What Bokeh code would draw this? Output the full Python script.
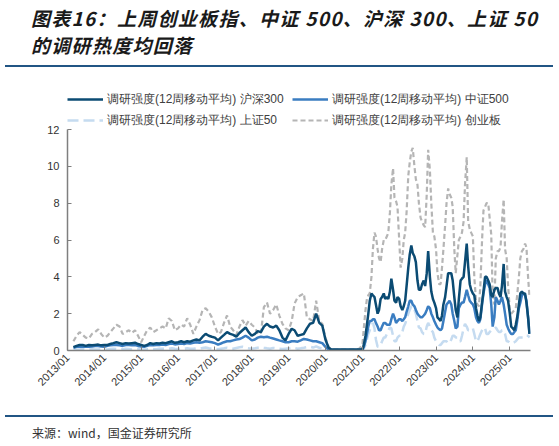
import pandas as pd
from math import pi
from bokeh.plotting import figure
from bokeh.layouts import column
from bokeh.models import (Legend, LegendItem, Div, FixedTicker,
                          DatetimeTickFormatter, Range1d)
from bokeh.embed import file_html
from bokeh.resources import INLINE

# monthly points up to 2020/12, semi-monthly afterwards
dates = (list(pd.date_range("2013-03-01", "2020-12-01", freq="MS"))
         + list(pd.date_range("2021-01-01", "2025-07-16", freq="SMS")))

# 调研强度(12周移动平均) 沪深300
hs300 = [0.18, 0.25, 0.3, 0.3, 0.25, 0.3, 0.28, 0.3, 0.32, 0.28,
         0.3, 0.3, 0.35, 0.4, 0.45, 0.4, 0.35, 0.4, 0.38, 0.4, 0.42, 0.35,
         0.3, 0.25, 0.3, 0.4, 0.35, 0.4, 0.38, 0.42, 0.4, 0.45, 0.5, 0.42,
         0.45, 0.5, 0.45, 0.5, 0.48, 0.55, 0.6, 0.55, 0.75, 0.9, 0.8, 0.75,
         0.7, 0.55, 0.7, 0.85, 1.0, 0.9, 0.85, 0.75, 0.95, 1.1, 1.25, 1.0,
         0.8, 0.9, 1.05, 1.0, 1.3, 1.45, 1.3, 1.25, 1.35, 1.1, 0.7, 0.55,
         0.9, 1.18, 1.1, 0.8, 0.85, 0.9, 1.2, 1.45, 1.5, 2.0, 1.5, 1.35,
         0.6, 0.15, 0.05, 0.05, 0.05, 0.05, 0.05, 0.05, 0.05, 0.05, 0.05, 0.05,
         0.05, 0.3, 0.8, 1.4, 2.0, 2.7, 3.1, 3.0, 2.9, 2.5, 2.0, 2.2,
         2.8, 2.9, 3.1, 2.8, 2.9, 2.8, 3.2, 3.9, 3.3, 2.7, 2.6, 2.9,
         2.8, 2.4, 2.2, 2.4, 2.7, 3.5, 4.5, 5.2, 5.7, 5.3, 5.1, 4.8,
         3.8, 3.3, 3.3, 3.6, 3.8, 3.5, 4.2, 5.4, 4.0, 3.2, 2.8, 2.6,
         2.3, 1.8, 1.7, 1.6, 1.9, 2.5, 2.9, 3.5, 4.2, 4.2, 4.2, 3.8,
         2.9, 2.2, 1.8, 2.8, 3.8, 3.9, 4.0, 4.8, 5.8, 4.6, 3.6, 3.3,
         3.1, 3.0, 2.3, 1.9, 1.6, 1.8, 2.6, 3.2, 4.0, 4.0, 3.8, 3.6,
         3.0, 2.9, 3.3, 3.4, 3.4, 3.1, 2.9, 3.5, 4.7, 3.2, 2.9, 2.7,
         2.0, 1.3, 1.2, 1.1, 1.4, 1.8, 2.5, 3.1, 3.2, 3.1, 3.1, 2.6, 1.8, 0.9]

# 调研强度(12周移动平均) 中证500
zz500 = [0.15, 0.2, 0.22, 0.2, 0.22, 0.2, 0.22, 0.25, 0.25, 0.22,
         0.2, 0.25, 0.28, 0.3, 0.3, 0.28, 0.25, 0.3, 0.3, 0.28, 0.3, 0.25,
         0.22, 0.2, 0.25, 0.3, 0.28, 0.3, 0.3, 0.32, 0.3, 0.35, 0.38, 0.33,
         0.35, 0.38, 0.35, 0.4, 0.38, 0.42, 0.45, 0.42, 0.45, 0.5, 0.48, 0.45,
         0.4, 0.32, 0.38, 0.45, 0.5, 0.5, 0.55, 0.6, 0.62, 0.7, 0.8, 0.7,
         0.55, 0.6, 0.7, 0.75, 0.72, 0.75, 0.7, 0.65, 0.6, 0.55, 0.5, 0.45,
         0.45, 0.5, 0.5, 0.48, 0.55, 0.63, 0.6, 0.55, 0.5, 0.5, 0.45, 0.4,
         0.2, 0.05, 0.03, 0.03, 0.03, 0.03, 0.03, 0.03, 0.03, 0.03, 0.03, 0.03,
         0.05, 0.2, 0.5, 0.9, 1.3, 1.6, 1.6, 1.7, 1.7, 1.5, 1.3, 1.1,
         1.1, 1.3, 1.5, 1.5, 1.4, 1.4, 1.4, 1.7, 2.0, 1.8, 1.5, 1.6,
         1.7, 1.7, 1.6, 1.7, 1.8, 2.1, 2.4, 2.7, 2.7, 2.5, 2.4, 2.2,
         2.0, 1.9, 1.8, 1.8, 1.9, 2.0, 2.2, 2.4, 2.3, 2.0, 1.8, 1.6,
         1.4, 1.25, 1.15, 1.1, 1.2, 1.6, 2.1, 2.5, 2.6, 2.7, 2.5, 2.0,
         1.6, 1.2, 1.3, 2.3, 2.5, 2.6, 2.6, 2.9, 3.3, 3.0, 2.7, 2.6,
         2.5, 2.3, 1.8, 1.6, 1.5, 1.7, 2.5, 3.1, 3.6, 3.8, 3.6, 3.4,
         2.5, 1.3, 1.8, 2.9, 2.7, 2.5, 2.7, 2.9, 2.5, 2.0, 1.4, 1.2,
         1.0, 0.9, 0.9, 1.0, 1.1, 1.6, 2.3, 2.6, 3.0, 3.1, 3.0, 2.7, 1.8, 0.9]

# 调研强度(12周移动平均) 上证50
sz50 = [0.05, 0.06, 0.05, 0.08, 0.06, 0.05, 0.07, 0.06, 0.05, 0.06,
        0.05, 0.06, 0.08, 0.1, 0.08, 0.06, 0.07, 0.09, 0.08, 0.06, 0.07, 0.08,
        0.06, 0.05, 0.07, 0.1, 0.08, 0.07, 0.09, 0.1, 0.08, 0.1, 0.12, 0.09,
        0.08, 0.1, 0.09, 0.12, 0.1, 0.09, 0.12, 0.1, 0.14, 0.16, 0.12, 0.1,
        0.08, 0.07, 0.1, 0.12, 0.15, 0.12, 0.1, 0.14, 0.18, 0.2, 0.15, 0.12,
        0.1, 0.12, 0.15, 0.18, 0.15, 0.12, 0.1, 0.14, 0.12, 0.1, 0.08, 0.1,
        0.12, 0.15, 0.14, 0.1, 0.12, 0.15, 0.18, 0.2, 0.16, 0.22, 0.15, 0.1,
        0.05, 0.02, 0.02, 0.02, 0.02, 0.02, 0.02, 0.02, 0.02, 0.02, 0.02, 0.02,
        0.0, 0.1, 0.3, 0.6, 0.9, 1.1, 1.3, 1.5, 1.2, 0.6, 0.2, 0.2,
        0.3, 0.5, 0.7, 0.7, 0.9, 1.1, 1.25, 1.2, 0.8, 0.5, 0.5, 0.7,
        0.8, 0.8, 1.0, 1.3, 1.45, 1.7, 2.0, 2.2, 2.4, 2.4, 2.2, 2.0,
        1.6, 1.25, 1.2, 1.0, 0.9, 0.9, 1.3, 1.5, 1.3, 1.1, 1.0, 0.7,
        0.5, 0.4, 0.3, 0.3, 0.4, 0.5, 0.5, 0.5, 0.4, 0.4, 0.6, 0.8,
        0.8, 0.7, 0.7, 0.5, 0.5, 0.8, 1.2, 1.45, 1.3, 1.1, 1.1, 1.2,
        1.2, 0.9, 0.5, 0.5, 0.7, 0.9, 1.1, 1.25, 1.2, 0.9, 0.9, 1.0,
        1.1, 1.1, 1.2, 1.25, 1.1, 1.0, 1.0, 1.1, 1.1, 0.9, 0.5, 0.5,
        0.4, 0.4, 0.4, 0.45, 0.5, 0.6, 0.7, 0.7, 0.7, 0.7, 0.7, 0.8, 0.8, 0.7]

# 调研强度(12周移动平均) 创业板
cyb = [0.5, 0.8, 1.0, 0.85, 0.7, 0.65, 0.9, 1.0, 1.15, 0.9,
       0.7, 0.8, 1.0, 1.2, 1.4, 1.3, 0.9, 1.0, 1.1, 0.95, 1.1, 0.8,
       0.45, 0.8, 1.1, 1.25, 1.0, 1.1, 1.2, 1.3, 1.2, 1.75, 1.6, 1.1,
       1.2, 1.4, 1.3, 1.75, 1.4, 0.9, 1.3, 1.65, 2.2, 2.3, 2.1, 1.8,
       1.3, 0.9, 1.0, 1.5, 1.9, 1.3, 1.1, 0.85, 1.3, 1.65, 1.35, 1.6,
       1.4, 1.25, 0.95, 0.9, 2.35, 2.6, 2.0, 2.2, 2.5, 1.9, 1.45, 1.2,
       1.1, 1.6, 2.55, 2.9, 3.0, 3.1, 1.8, 1.7, 1.6, 2.7, 1.6, 1.45,
       0.7, 0.2, 0.05, 0.05, 0.05, 0.05, 0.05, 0.05, 0.05, 0.05, 0.05, 0.1,
       0.3, 1.2, 2.2, 2.8, 3.0, 3.1, 4.0, 5.5, 6.4, 6.2, 5.5, 5.0,
       4.8, 5.5, 6.0, 6.0, 6.2, 6.4, 7.5, 9.0, 9.9, 8.3, 8.1, 7.8,
       6.0, 4.5, 5.0, 6.0, 6.4, 7.5, 9.5, 10.2, 10.8, 11.0, 10.0, 9.3,
       9.0, 8.0, 7.2, 7.0, 6.8, 6.7, 8.5, 10.9, 9.8, 8.0, 6.4, 6.2,
       5.5, 4.2, 3.6, 3.6, 4.5, 5.5, 6.8, 8.0, 8.8, 8.5, 8.3, 7.8,
       5.5, 4.2, 5.2, 6.0, 6.2, 6.4, 7.0, 9.0, 10.5, 7.0, 6.6, 6.4,
       6.2, 4.0, 2.7, 2.5, 2.4, 3.5, 6.0, 7.6, 7.8, 8.0, 8.0, 7.2,
       6.3, 3.0, 2.5, 5.0, 5.4, 5.4, 5.6, 7.0, 8.2, 5.5, 5.0, 3.5,
       2.2, 2.0, 2.1, 2.2, 2.3, 3.0, 4.0, 5.0, 5.4, 5.5, 5.8, 5.6, 4.0, 2.9]

y_ticks = [0, 2, 4, 6, 8, 10, 12]
tick_years = list(range(2013, 2026))

title_1 = "图表16：上周创业板指、中证 500、沪深 300、上证 50"
title_2 = "的调研热度均回落"
source_text = "来源：wind，国金证券研究所"
label_prefix = "调研强度(12周移动平均) "

RULE = "#215584"

# 标题 + 分隔线
title_div = Div(
    text=('<div style="height:65px;padding:4px 0 0 31px;box-sizing:border-box;'
          'font-family:\'Noto Sans CJK SC\';font-weight:bold;font-style:italic;'
          'font-size:19px;letter-spacing:1.3px;line-height:27px;color:#1a1a1a;'
          'white-space:nowrap">' + title_1 + '<br>' + title_2 + '</div>'
          '<div style="height:2px;margin-left:5px;width:548px;background:' + RULE + '"></div>'),
    width=559, height=67, margin=0)

# frame reaches above 12 so the legend sits inside it; the y axis stops at 12
p = figure(width=559, height=348, x_axis_type="datetime",
           x_range=Range1d(pd.Timestamp("2013-01-01"), pd.Timestamp("2025-07-25")),
           y_range=Range1d(0, 14.5),
           min_border_left=67, min_border_right=29,
           min_border_top=16, min_border_bottom=65,
           output_backend="svg", toolbar_location=None, margin=0)
p.outline_line_color = None
p.grid.visible = False

r_cyb = p.line(dates, cyb, line_color="#b5b5b5", line_width=2.2, line_dash="5 3")
r_50 = p.line(dates, sz50, line_color="#c5dbf0", line_width=2.5, line_dash="11 5")
r_500 = p.line(dates, zz500, line_color="#3a7dc1", line_width=2.5)
r_300 = p.line(dates, hs300, line_color="#0b4b73", line_width=2.5)

# axes
tick_ms = [pd.Timestamp(f"{y}-01-01").value // 10**6 for y in tick_years]
p.xaxis.ticker = FixedTicker(ticks=tick_ms)
p.xaxis.formatter = DatetimeTickFormatter(years="%Y/%m", months="%Y/%m",
                                          days="%Y/%m", hours="%Y/%m")
p.xaxis.major_label_orientation = pi / 4
p.yaxis.ticker = FixedTicker(ticks=y_ticks)
p.yaxis.bounds = (0, 12)
for ax in (p.xaxis, p.yaxis):
    ax.axis_line_color = "#7f7f7f"
    ax.axis_line_width = 1.5
    ax.major_tick_line_color = "#7f7f7f"
    ax.major_tick_in = 4
    ax.major_tick_out = 0
    ax.minor_tick_line_color = None
    ax.major_label_text_font = "Liberation Sans"
    ax.major_label_text_font_size = "11px"
    ax.major_label_text_color = "#333333"
p.yaxis.major_label_standoff = 8

# legend: two columns, each its own Legend so the column gap is exact
legend_style = dict(orientation="vertical", padding=3, spacing=1, margin=0,
                    border_line_color=None, background_fill_alpha=0,
                    glyph_width=36, glyph_height=20, label_height=20,
                    label_standoff=4, label_text_font="Liberation Sans",
                    label_text_font_size="12px", label_text_color="#404040")
leg_left = Legend(items=[
    LegendItem(label=label_prefix + "沪深300", renderers=[r_300]),
    LegendItem(label=label_prefix + "上证50", renderers=[r_50]),
], location=(0, 220), **legend_style)
leg_right = Legend(items=[
    LegendItem(label=label_prefix + "中证500", renderers=[r_500]),
    LegendItem(label=label_prefix + "创业板", renderers=[r_cyb]),
], location=(225, 220), **legend_style)
p.add_layout(leg_left)
p.add_layout(leg_right)

# 来源
source_div = Div(
    text=('<div style="height:2px;margin-left:5px;width:548px;background:' + RULE + '"></div>'
          '<div style="margin-top:8px;padding-left:32px;line-height:16px;'
          'font-family:\'Noto Sans CJK SC\';font-size:12px;color:#333333;'
          'white-space:nowrap">' + source_text + '</div>'),
    width=559, height=31, margin=0)

layout = column(title_div, p, source_div, spacing=0)

open("out.html", "w").write(file_html(layout, INLINE))
